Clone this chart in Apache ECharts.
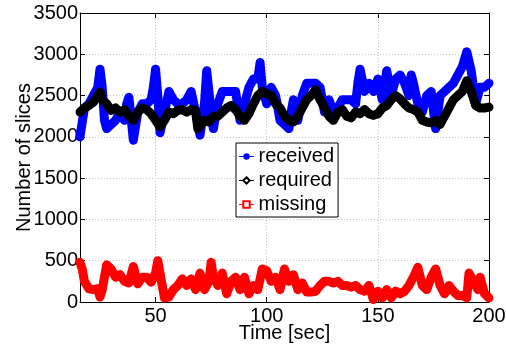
<!DOCTYPE html>
<html>
<head>
<meta charset="utf-8">
<script src="https://cdn.jsdelivr.net/npm/echarts@6/dist/echarts.min.js"></script>
<style>html,body{margin:0;padding:0;background:#fff}#c{width:506px;height:345px}</style>
</head>
<body>
<div id="c"></div>
<script>
var xTicks = [50, 100, 150, 200];
var yTicks = [0, 500, 1000, 1500, 2000, 2500, 3000, 3500];

var receivedT = [16,18,20,22,24,25,26,27,28,30,32,34,36,37,38,40,42,44,46,48,49,50,51,52,54,56,58,60,62,64,66,68,70,72,73,75,76,78,80,82,84,86,88,90,92,94,96,97,98,100,102,104,106,108,110,111,112,114,116,118,120,122,124,126,128,130,132,134,136,138,140,141,142,144,146,148,150,152,154,156,158,160,162,164,165,166,168,170,172,174,176,178,180,182,184,186,188,190,192,194,196,198,200];
var receivedV = [2000,2350,2400,2500,2600,2820,2600,2200,2100,2150,2200,2300,2200,2400,2480,1960,2300,2400,2400,2450,2600,2820,2500,2050,2300,2550,2450,2400,2400,2450,2550,2300,2020,2400,2800,2300,2100,2400,2550,2550,2550,2550,2200,2400,2600,2700,2700,2900,2600,2400,2600,2500,2200,2150,2100,2300,2450,2200,2500,2650,2650,2650,2600,2300,2450,2300,2350,2450,2450,2450,2400,2650,2820,2550,2650,2550,2700,2450,2800,2500,2700,2750,2650,2500,2750,2650,2400,2300,2500,2550,2100,2500,2550,2600,2650,2750,2850,3030,2800,2400,2600,2600,2650];

var requiredT = [16,18,20,22,24,25,26,28,30,32,34,36,38,40,42,44,46,48,50,52,54,56,58,60,62,64,66,68,69,70,72,74,76,78,80,82,84,86,88,90,92,94,96,98,100,102,104,106,108,110,112,114,116,118,120,122,124,126,128,130,132,134,136,138,140,142,144,146,148,150,152,154,156,158,160,162,164,166,168,170,172,174,176,178,180,182,184,186,188,190,192,194,196,198,200];
var requiredV = [2300,2350,2380,2420,2500,2540,2450,2400,2320,2350,2300,2330,2250,2200,2300,2350,2330,2280,2200,2120,2200,2300,2280,2320,2330,2300,2330,2320,2100,2130,2200,2180,2250,2250,2300,2350,2380,2330,2250,2200,2280,2400,2500,2550,2520,2500,2400,2350,2250,2200,2180,2250,2350,2450,2500,2570,2450,2350,2250,2200,2300,2330,2250,2230,2300,2280,2330,2280,2260,2280,2350,2380,2450,2500,2460,2400,2350,2330,2300,2200,2180,2170,2200,2150,2250,2350,2450,2500,2550,2680,2550,2380,2350,2350,2360];

var missingT = [16,17,18,20,22,24,25,26,28,30,32,34,36,38,40,42,44,46,48,50,51,52,54,56,58,60,62,64,66,68,70,72,74,75,76,78,80,82,84,86,88,90,92,94,96,98,100,102,104,106,108,110,112,114,116,118,120,122,124,126,128,130,132,134,136,138,140,142,144,146,148,150,152,154,156,158,160,162,164,166,168,170,172,174,176,178,180,182,184,186,188,190,191,193,195,196,198,200];
var missingV = [480,400,250,160,150,160,60,150,450,400,300,330,250,230,430,220,300,300,240,350,500,350,50,60,150,200,280,200,280,150,350,150,250,480,300,200,350,100,250,300,150,300,100,200,150,400,380,250,300,150,400,250,330,150,230,120,120,130,200,250,250,230,250,200,200,180,200,150,130,200,30,130,50,150,50,130,100,130,200,300,420,200,150,300,400,200,100,200,130,80,80,50,350,250,150,300,100,50];

function pairs(t, v) {
  var out = [];
  var n = Math.min(t.length, v.length);
  for (var i = 0; i < n; i++) out.push([t[i], v[i]]);
  return out;
}
function plain(v) { return String(v); }

var FONT = 'Liberation Sans, Arial, sans-serif';
var FS = 20;
var chart = echarts.init(document.getElementById('c'), null, {renderer: 'canvas'});
var gridLine = {show: true, lineStyle: {color: '#c4c4c4', type: [1, 2], width: 1}};
chart.setOption({
  animation: false,
  backgroundColor: '#fff',
  grid: {left: 80, right: 17, top: 13, bottom: 43, containLabel: false, outerBoundsMode: 'none'},
  legend: {
    orient: 'vertical',
    left: 236, top: 143,
    backgroundColor: '#fff',
    borderColor: '#000', borderWidth: 1, borderRadius: 0,
    padding: [3, 4, 2, 3],
    itemWidth: 14, itemHeight: 8, itemGap: 3,
    textStyle: {color: '#000', fontSize: FS, fontFamily: FONT, lineHeight: 21},
    lineStyle: {width: 1},
    data: ['received', 'required', 'missing']
  },
  xAxis: [{
    type: 'value', min: 16, max: 200, position: 'bottom',
    name: 'Time [sec]', nameLocation: 'middle', nameGap: 21, nameMoveOverlap: false,
    nameTextStyle: {color: '#000', fontSize: FS, fontFamily: FONT, verticalAlign: 'top'},
    axisLine: {show: true, onZero: false, lineStyle: {color: '#000', width: 1}},
    axisTick: {show: true, inside: true, length: 5, customValues: xTicks, lineStyle: {color: '#000'}},
    axisLabel: {show: true, customValues: xTicks, formatter: plain, color: '#000', fontSize: FS, fontFamily: FONT, margin: 4},
    splitLine: gridLine
  }, {
    type: 'value', min: 16, max: 200, position: 'top',
    axisLine: {show: true, onZero: false, lineStyle: {color: '#000', width: 1}},
    axisTick: {show: true, inside: true, length: 5, customValues: xTicks, lineStyle: {color: '#000'}},
    axisLabel: {show: false},
    splitLine: {show: false}
  }],
  yAxis: [{
    type: 'value', min: 0, max: 3500, interval: 500, position: 'left',
    name: 'Number of slices', nameLocation: 'middle', nameGap: 46, nameRotate: 90, nameMoveOverlap: false,
    nameTextStyle: {color: '#000', fontSize: FS, fontFamily: FONT},
    axisLine: {show: true, onZero: false, lineStyle: {color: '#000', width: 1}},
    axisTick: {show: true, inside: true, length: 5, lineStyle: {color: '#000'}},
    axisLabel: {show: true, formatter: plain, color: '#000', fontSize: FS, fontFamily: FONT, margin: 2},
    splitLine: gridLine
  }, {
    type: 'value', min: 0, max: 3500, interval: 500, position: 'right',
    axisLine: {show: true, onZero: false, lineStyle: {color: '#000', width: 1}},
    axisTick: {show: true, inside: true, length: 5, lineStyle: {color: '#000'}},
    axisLabel: {show: false},
    splitLine: {show: false}
  }],
  series: [{
    name: 'received', type: 'line', xAxisIndex: 0, yAxisIndex: 0,
    data: pairs(receivedT, receivedV),
    symbol: 'circle', showSymbol: false,
    itemStyle: {color: '#0000ff'},
    lineStyle: {color: '#0000ff', width: 9, join: 'round', cap: 'round'}
  }, {
    name: 'required', type: 'line', xAxisIndex: 0, yAxisIndex: 0,
    data: pairs(requiredT, requiredV),
    symbol: 'emptyDiamond', showSymbol: false,
    itemStyle: {color: '#000000'},
    lineStyle: {color: '#000000', width: 9, join: 'round', cap: 'round'}
  }, {
    name: 'missing', type: 'line', xAxisIndex: 0, yAxisIndex: 0,
    data: pairs(missingT, missingV),
    symbol: 'emptyRect', showSymbol: false,
    itemStyle: {color: '#ff0000'},
    lineStyle: {color: '#ff0000', width: 9, join: 'round', cap: 'round'}
  }]
});
</script>
</body>
</html>
